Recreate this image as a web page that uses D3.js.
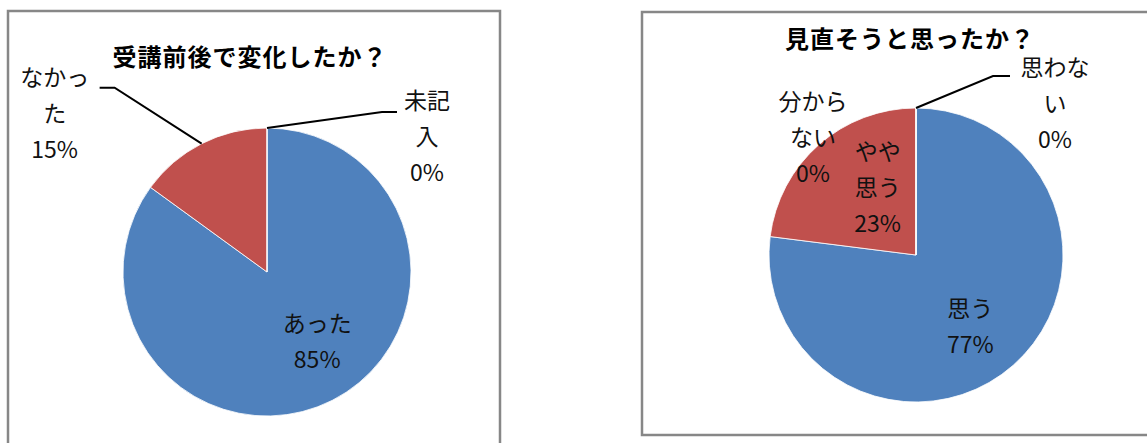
<!DOCTYPE html>
<html>
<head>
<meta charset="utf-8">
<script src="https://cdn.jsdelivr.net/npm/d3@7"></script>
<style>
  body { margin: 0; background: #fff; }
  text { font-family: "Noto Sans CJK JP", "Noto Sans", sans-serif; }
</style>
</head>
<body>
<div id="plotContainer"></div>
<script>
// data
const title1 = "受講前後で変化したか？";
const categories1 = ["あった", "なかった", "未記入"];
const values1 = [85, 15, 0];
const labelLines1 = [["あった", "85%"], ["なかっ", "た", "15%"], ["未記", "入", "0%"]];

const title2 = "見直そうと思ったか？";
const categories2 = ["思う", "やや思う", "分からない", "思わない"];
const values2 = [77, 23, 0, 0];
const labelLines2 = [["思う", "77%"], ["やや", "思う", "23%"], ["分から", "ない", "0%"], ["思わな", "い", "0%"]];

const colors = ["#4F81BD", "#C0504D", "#9BBB59", "#8064A2"];

// layout: k = radius fraction for anchor, dx/dy = nudge, leader = elbow offset + horizontal run
const layout1 = [
  {k: 0.6, dx: 11, dy: -7},
  {k: 1, dx: -147, dy: -30, leader: [-87, -56, -15]},
  {k: 1, dx: 160, dy: 9, leader: [115, -16, 15]}
];
const layout2 = [
  {k: 0.6, dx: -4, dy: 6},
  {k: 0.6, dx: 20, dy: -1},
  {k: 1, dx: -103, dy: 30},
  {k: 1, dx: 139, dy: -4, leader: [77, -32, 17]}
];

const svg = d3.select("#plotContainer")
  .append("svg")
    .attr("width", 1147)
    .attr("height", 443);

function drawChart(opt) {
  // frame
  svg.append("rect")
    .attr("x", opt.frame[0]).attr("y", opt.frame[1])
    .attr("width", opt.frame[2]).attr("height", opt.frame[3])
    .attr("fill", "#fff")
    .attr("stroke", "#878787")
    .attr("stroke-width", 2.5);

  svg.append("text")
    .attr("x", opt.titleX).attr("y", opt.titleY)
    .attr("text-anchor", "middle")
    .attr("dominant-baseline", "central")
    .style("font-size", "24px")
    .style("font-weight", "bold")
    .style("letter-spacing", "1px")
    .attr("fill", "#000")
    .text(opt.title);

  const g = svg.append("g")
    .attr("transform", `translate(${opt.cx},${opt.cy})`);

  const pie = d3.pie().sort(null).value(d => d);
  const arcs = pie(opt.values);
  const arc = d3.arc().innerRadius(0).outerRadius(opt.r);

  g.selectAll("path.slice")
    .data(arcs)
    .enter()
    .append("path")
      .attr("class", "slice")
      .attr("d", arc)
      .attr("fill", (d, i) => colors[i])
      .attr("stroke", "#fff")
      .attr("stroke-width", 0.8);

  const lh = 36;
  arcs.forEach(function(d, i) {
    const L = opt.layout[i];
    const mid = (d.startAngle + d.endAngle) / 2;
    const ax = Math.sin(mid) * opt.r * L.k;
    const ay = -Math.cos(mid) * opt.r * L.k;

    if (L.leader) {
      const ex = ax + L.leader[0], ey = ay + L.leader[1];
      g.append("path")
        .attr("d", d3.line()([[ax, ay], [ex, ey], [ex + L.leader[2], ey]]))
        .attr("fill", "none")
        .attr("stroke", "#000")
        .attr("stroke-width", 2);
    }

    const lines = opt.labels[i];
    const t = g.append("text")
      .attr("text-anchor", "middle")
      .style("font-size", "23px")
      .attr("fill", "#111");
    lines.forEach(function(s, j) {
      t.append("tspan")
        .attr("x", ax + L.dx)
        .attr("y", ay + L.dy + (j - (lines.length - 1) / 2) * lh)
        .attr("dy", "0.36em")
        .text(s);
    });
  });
}

drawChart({
  frame: [8, 11, 492, 460],
  title: title1, titleX: 250, titleY: 55,
  cx: 267, cy: 272, r: 144,
  values: values1, labels: labelLines1, layout: layout1
});

drawChart({
  frame: [642, 12, 520, 423],
  title: title2, titleX: 910, titleY: 37,
  cx: 916, cy: 255, r: 147,
  values: values2, labels: labelLines2, layout: layout2
});
</script>
</body>
</html>
